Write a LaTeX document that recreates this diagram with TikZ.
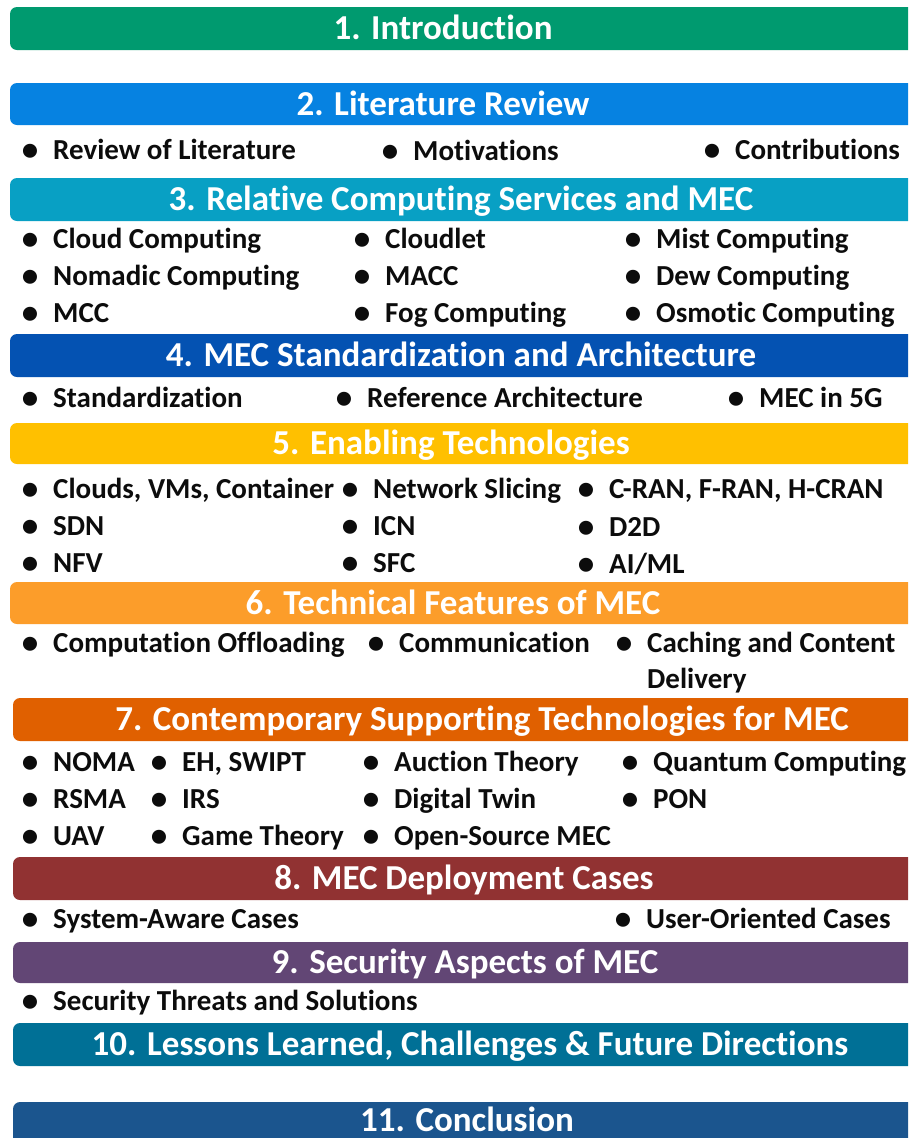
\documentclass[tikz,border=0pt]{standalone}
\usepackage{fontspec}
\setmainfont{Carlito}[Ligatures={NoCommon,NoContextual,NoRare},Contextuals={NoAlternate}]
\definecolor{cA}{RGB}{0,154,111}
\definecolor{cB}{RGB}{6,130,225}
\definecolor{cC}{RGB}{8,160,196}
\definecolor{cD}{RGB}{4,82,178}
\definecolor{cE}{RGB}{255,192,0}
\definecolor{cF}{RGB}{252,157,42}
\definecolor{cG}{RGB}{224,96,0}
\definecolor{cH}{RGB}{145,50,50}
\definecolor{cI}{RGB}{98,70,117}
\definecolor{cJ}{RGB}{0,112,150}
\definecolor{cK}{RGB}{27,85,142}
\definecolor{txt}{RGB}{12,12,12}
\tikzset{
  secbar/.style={rounded corners=7pt},
  head/.style={text=white, font=\fontsize{35}{40}\selectfont\bfseries, anchor=base, inner sep=0pt},
  itm/.style={text=txt, font=\fontsize{29}{34}\selectfont\bfseries, anchor=base west, inner sep=0pt},
  bul/.style={text=txt, font=\fontsize{33}{38}\selectfont\bfseries, anchor=base, inner sep=0pt},
}
\newcommand\bitem[4]{\node[bul] (#1b) at (#2-23,#3+1) {\textbullet}; \node[itm] (#1) at (#2,#3) {#4};}
\begin{document}
\begin{tikzpicture}[x=1pt,y=-1pt]
\useasboundingbox (0,0) rectangle (908,1138);
\fill[white] (0,0) rectangle (908,1138);
\clip (0,0) rectangle (908,1138);
% bars
\fill[secbar,cA] (10,7) rectangle (940,50);
\node[head] (h1) at (443,39) {1. Introduction};
\fill[secbar,cB] (10,83) rectangle (940,125);
\node[head] (h2) at (443,115) {2. Literature Review};
\fill[secbar,cC] (10,178) rectangle (940,221);
\node[head] (h3) at (461,210) {3. Relative Computing Services and MEC};
\fill[secbar,cD] (10,334) rectangle (940,377);
\node[head] (h4) at (461,366) {4. MEC Standardization and Architecture};
\fill[secbar,cE] (10,423) rectangle (940,464);
\node[head] (h5) at (451,454) {5. Enabling Technologies};
\fill[secbar,cF] (10,582) rectangle (940,624);
\node[head] (h6) at (453,614) {6. Technical Features of MEC};
\fill[secbar,cG] (13,698) rectangle (940,741);
\node[head] (h7) at (482,730) {7. Contemporary Supporting Technologies for MEC};
\fill[secbar,cH] (13,857) rectangle (940,900);
\node[head] (h8) at (464,889) {8. MEC Deployment Cases};
\fill[secbar,cI] (13,942) rectangle (940,983);
\node[head] (h9) at (465,973) {9. Security Aspects of MEC};
\fill[secbar,cJ] (13,1023) rectangle (940,1066);
\node[head] (h10) at (470,1055) {10. Lessons Learned, Challenges \& Future Directions};
\fill[secbar,cK] (13,1102) rectangle (940,1160);
\node[head] (h11) at (467,1131) {11. Conclusion};
% section 2
\bitem{a1}{53}{159}{Review of Literature}
\bitem{a2}{413}{160}{Motivations}
\bitem{a3}{735}{159}{Contributions}
% section 3
\bitem{b1}{53}{248}{Cloud Computing}
\bitem{b2}{53}{285}{Nomadic Computing}
\bitem{b3}{53}{322}{MCC}
\bitem{b4}{385}{248}{Cloudlet}
\bitem{b5}{385}{285}{MACC}
\bitem{b6}{385}{322}{Fog Computing}
\bitem{b7}{656}{248}{Mist Computing}
\bitem{b8}{656}{285}{Dew Computing}
\bitem{b9}{656}{322}{Osmotic Computing}
% section 4
\bitem{c1}{53}{407}{Standardization}
\bitem{c2}{367}{407}{Reference Architecture}
\bitem{c3}{759}{407}{MEC in 5G}
% section 5
\bitem{d1}{53}{498}{Clouds, VMs, Container}
\bitem{d2}{53}{535}{SDN}
\bitem{d3}{53}{572}{NFV}
\bitem{d4}{373}{498}{Network Slicing}
\bitem{d5}{373}{535}{ICN}
\bitem{d6}{373}{572}{SFC}
\bitem{d7}{609}{498}{C-RAN, F-RAN, H-CRAN}
\bitem{d8}{609}{536}{D2D}
\bitem{d9}{609}{573}{AI/ML}
% section 6
\bitem{e1}{53}{652}{Computation Offloading}
\bitem{e2}{399}{652}{Communication}
\bitem{e3}{647}{652}{Caching and Content}
\node[itm] (e4) at (647,688) {Delivery};
% section 7
\bitem{f1}{53}{771}{NOMA}
\bitem{f2}{53}{808}{RSMA}
\bitem{f3}{53}{845}{UAV}
\bitem{f4}{182}{771}{EH, SWIPT}
\bitem{f5}{182}{808}{IRS}
\bitem{f6}{182}{845}{Game Theory}
\bitem{f7}{394}{771}{Auction Theory}
\bitem{f8}{394}{808}{Digital Twin}
\bitem{f9}{394}{845}{Open-Source MEC}
\bitem{f10}{653}{771}{Quantum Computing}
\bitem{f11}{653}{808}{PON}
% section 8
\bitem{g1}{53}{928}{System-Aware Cases}
\bitem{g2}{646}{928}{User-Oriented Cases}
% section 9
\bitem{k1}{53}{1010}{Security Threats and Solutions}
\end{tikzpicture}
\end{document}
